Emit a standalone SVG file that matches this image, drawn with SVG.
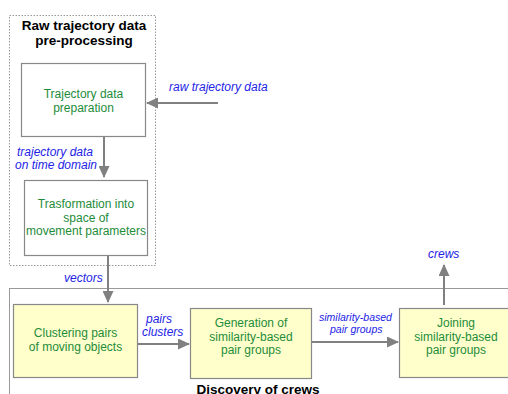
<svg xmlns="http://www.w3.org/2000/svg" width="508" height="394" viewBox="0 0 508 394">
<style>
.grp{fill:none;stroke:#999;stroke-width:1}
.dot{stroke-dasharray:1.5 1.5}
.box{fill:#fff;stroke:#888;stroke-width:1.2}
.ybox{fill:#ffffcc;stroke:#888;stroke-width:1.2}
.t{font-family:"Liberation Sans",Arial,sans-serif;font-size:12px;fill:#1e8c3a;text-anchor:middle}
.h{font-family:"Liberation Sans",Arial,sans-serif;font-size:13.5px;font-weight:bold;fill:#000;text-anchor:middle}
.l{font-family:"Liberation Sans",Arial,sans-serif;font-size:12px;font-style:italic;fill:#2323e6}
.s{font-size:10.5px}
.c{fill:none;stroke:#808080;stroke-width:2}
</style>
<defs>
<marker id="ah" markerWidth="12" markerHeight="11" refX="11" refY="5.5" orient="auto" markerUnits="userSpaceOnUse" viewBox="0 0 12 11">
<path d="M0,0 L12,5.5 L0,11 z" fill="#808080"/>
</marker>
</defs>
<g id="preprocessing">
<rect class="grp dot" x="9.5" y="15.5" width="146" height="250"/>
<text class="h" x="84" y="30">Raw trajectory data</text>
<text class="h" x="84" y="45">pre-processing</text>
</g>
<g id="discovery">
<rect class="grp" x="9.5" y="288.5" width="520" height="130"/>
<text class="h" x="258" y="394">Discovery of crews</text>
</g>
<g id="prep">
<rect class="box" x="21.5" y="63.5" width="124" height="73"/>
<text class="t" x="83.5" y="98">Trajectory data</text>
<text class="t" x="83.5" y="112">preparation</text>
</g>
<g id="transform">
<rect class="box" x="24.5" y="180.5" width="123" height="75"/>
<text class="t" x="86" y="208">Trasformation into</text>
<text class="t" x="86" y="222">space of</text>
<text class="t" x="86" y="235">movement parameters</text>
</g>
<g id="clustering">
<rect class="ybox" x="13.5" y="304.5" width="124" height="73"/>
<text class="t" x="75.5" y="337">Clustering pairs</text>
<text class="t" x="75.5" y="351">of moving objects</text>
</g>
<g id="generation">
<rect class="ybox" x="190.5" y="308.5" width="121" height="70"/>
<text class="t" x="251" y="327">Generation of</text>
<text class="t" x="251" y="341">similarity-based</text>
<text class="t" x="251" y="354">pair groups</text>
</g>
<g id="joining">
<rect class="ybox" x="399.5" y="308.5" width="120" height="69"/>
<text class="t" x="456" y="327">Joining</text>
<text class="t" x="456" y="341">similarity-based</text>
<text class="t" x="456" y="354">pair groups</text>
</g>
<g id="connectors">
<line class="c" x1="218" y1="103" x2="147" y2="103" marker-end="url(#ah)"/>
<line class="c" x1="104" y1="137" x2="104" y2="177" marker-end="url(#ah)"/>
<line class="c" x1="108" y1="256" x2="108" y2="302" marker-end="url(#ah)"/>
<line class="c" x1="138" y1="344" x2="189" y2="344" marker-end="url(#ah)"/>
<line class="c" x1="312" y1="342" x2="398" y2="342" marker-end="url(#ah)"/>
<line class="c" x1="444" y1="305" x2="444" y2="265" marker-end="url(#ah)"/>
<text class="l" x="169" y="91">raw trajectory data</text>
<text class="l" x="17" y="156">trajectory data</text>
<text class="l" x="15" y="169">on time domain</text>
<text class="l" x="64" y="282">vectors</text>
<text class="l" x="146" y="323">pairs</text>
<text class="l" x="142" y="336">clusters</text>
<text class="l s" x="319" y="321">similarity-based</text>
<text class="l s" x="330" y="333">pair groups</text>
<text class="l" x="428" y="258">crews</text>
</g>
</svg>
